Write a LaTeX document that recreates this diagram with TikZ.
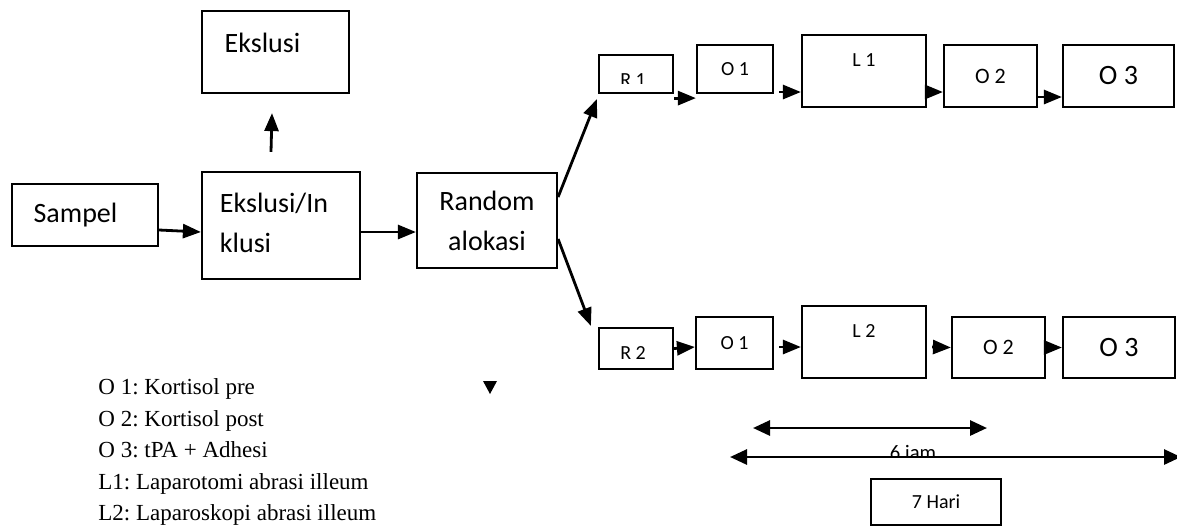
\documentclass[tikz,border=0pt]{standalone}
\usepackage{fontspec}
\setmainfont{Carlito}
\newfontfamily\legendfont{Liberation Serif}
\usetikzlibrary{arrows.meta}
\frenchspacing
\tikzset{
  box/.style={draw, line width=1.1pt, inner sep=1pt, font=\fontsize{10}{12}\selectfont},
  bigtxt/.style={font=\fontsize{14}{20}\selectfont},
  midtxt/.style={font=\fontsize{11}{13}\selectfont},
  arr/.style={line width=1.4pt, -{Triangle[length=9pt,width=7pt]}},
  dimarr/.style={line width=1.4pt, {Triangle[length=8.5pt,width=7.5pt]}-{Triangle[length=8.5pt,width=7.5pt]}},
  legend/.style={inner sep=0pt, font=\legendfont\fontsize{11.5}{13}\selectfont}
}
\begin{document}
\begin{tikzpicture}[x=0.5pt,y=-0.5pt]
\useasboundingbox (0,0) rectangle (1177,526);

% left part
\node[box, minimum width=73pt, minimum height=31pt, label={[bigtxt, xshift=-4.75pt]center:Sampel}] (sampel) at (85,215) {};
\node[box, minimum width=79pt, minimum height=53.5pt, label={[bigtxt, align=left, xshift=-3.5pt, yshift=1.25pt]center:Ekslusi/In\\klusi}] (eksin) at (281,225.5) {};
\node[box, minimum width=73.5pt, minimum height=41pt, label={[bigtxt, xshift=-6.5pt, yshift=4.5pt]center:Ekslusi}] (ekslusi) at (275.5,52) {};
\node[box, bigtxt, align=center, minimum width=70pt, minimum height=47.5pt] (random) at (487,220.5) {Random\\alokasi};

% upper row
\node[box, minimum width=37pt, minimum height=19pt] (r1) at (636,74) {};
\node[box, minimum width=38pt, minimum height=24pt] (o1t) at (735,69) {O 1};
\node[box, minimum width=62pt, minimum height=36pt, label={[font=\fontsize{10}{12}\selectfont, yshift=5.5pt]center:L 1}] (l1) at (864,71) {};
\node[box, midtxt, minimum width=46.5pt, minimum height=31pt] (o2t) at (990.5,76) {O 2};
\node[box, bigtxt, minimum width=55.5pt, minimum height=31pt] (o3t) at (1118.5,76) {O 3};
\begin{scope}
\clip (600,56) rectangle (672,83);
\node[font=\fontsize{10}{12}\selectfont, anchor=base] (r1txt) at (633,86) {R 1};
\end{scope}

% lower row
\node[box, minimum width=37pt, minimum height=20.5pt, label={[font=\fontsize{10}{12}\selectfont, xshift=-1.5pt, yshift=-2.25pt]center:R 2}] (r2) at (636,348.5) {};
\node[box, minimum width=38.5pt, minimum height=26pt] (o1b) at (734.5,343) {O 1};
\node[box, minimum width=62pt, minimum height=36pt, label={[font=\fontsize{10}{12}\selectfont, yshift=5.5pt]center:L 2}] (l2) at (864,342) {};
\node[box, midtxt, minimum width=46.5pt, minimum height=30.5pt] (o2b) at (998.5,347.5) {O 2};
\node[box, bigtxt, minimum width=56pt, minimum height=30.5pt] (o3b) at (1119,347.5) {O 3};

% arrows
\draw[arr] ([yshift=-7.5pt]sampel.east) -- ([yshift=-3.25pt]eksin.west);
\draw[arr] ([yshift=-3.25pt]eksin.east) -- ([yshift=-5.75pt]random.west);
\draw[arr] ([xshift=-5pt,yshift=9.5pt]eksin.north) -- ([xshift=-1.75pt,yshift=-9.5pt]ekslusi.south);
\draw[arr] ([yshift=11.75pt]random.east) -- ([xshift=-0.5pt,yshift=-2.5pt]r1.south west);
\draw[arr] ([yshift=-9.25pt]random.east) -- ([xshift=-3.5pt,yshift=0.5pt]r2.north west);

\draw[arr] ([yshift=-2pt]r1.south east) -- ([yshift=-2pt]o1t.south west);
\draw[arr] ([xshift=2.5pt,yshift=-11.5pt]o1t.east) -- ([yshift=-10.5pt]l1.west);
\draw[arr] ([yshift=-10.5pt]l1.east) -- ([yshift=-8pt]o2t.west);
\draw[arr] ([yshift=-10.5pt]o2t.east) -- ([yshift=-10.5pt]o3t.west);

\draw[arr] (r2.east) -- ([yshift=-2pt]o1b.west);
\draw[arr] ([xshift=2.5pt,yshift=-2pt]o1b.east) -- ([yshift=-2.5pt]l2.west);
\draw[arr] ([xshift=2.5pt,yshift=-2.5pt]l2.east) -- (o2b.west);
\draw[arr] (o2b.east) -- (o3b.west);

% time line
\coordinate (s1) at (753,428);
\coordinate (s2) at (987,428);
\coordinate (t1) at (730,457);
\coordinate (t2) at (1181,457);
\begin{scope}
\clip (850,430) rectangle (980,456);
\node[font=\fontsize{10.3}{12}\selectfont, anchor=base] (jam) at (913,459) {6 jam};
\end{scope}
\draw[dimarr] (s1) -- (s2);
\draw[dimarr] (t1) -- (t2);
\node[box, minimum width=65pt, minimum height=23pt] (hari) at (936,502) {7 Hari};

\fill (483,381) -- (497,381) -- (490,394) -- cycle;

% legend
\foreach \txt [count=\i] in {O 1: Kortisol pre, O 2: Kortisol post, O 3: tPA + Adhesi, L1: Laparotomi abrasi illeum, L2: Laparoskopi abrasi illeum}
  \node[legend, anchor=base west] (leg\i) at (98,{363+31.5*\i}) {\txt};
\end{tikzpicture}
\end{document}
